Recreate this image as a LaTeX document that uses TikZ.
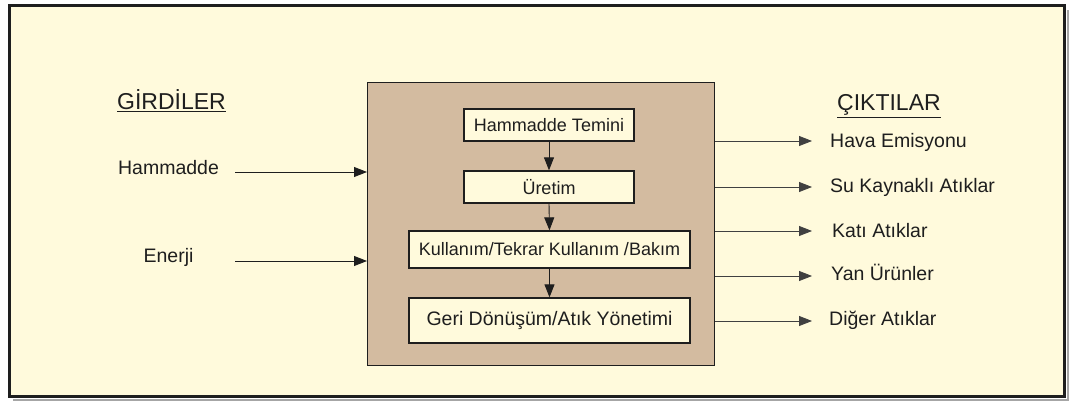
\documentclass[tikz,border=0pt]{standalone}
\usepackage{fontspec}
\setmainfont{Liberation Sans}
\usetikzlibrary{arrows.meta}
\definecolor{paper}{HTML}{FFFADC}
\definecolor{tanbox}{HTML}{D3BBA0}
\definecolor{ink}{HTML}{1E1E1E}
\begin{document}
\begin{tikzpicture}[x=1pt,y=-1pt,
  stage/.style={draw=ink, line width=1.3pt, fill=paper, inner sep=0pt,
    text=ink, font=\fontsize{18}{20}\selectfont},
  side/.style={text=ink, inner sep=0pt, font=\fontsize{19.5}{22}\selectfont},
  heading/.style={text=ink, inner sep=0pt, font=\fontsize{23}{26}\selectfont},
  flow/.style={draw=ink, line width=0.9pt, -{Triangle[length=13pt,width=10pt]}},
  outflow/.style={draw=ink!85, line width=0.8pt, -{Triangle[length=13pt,width=10pt]}}
]
\useasboundingbox (0,0) rectangle (1071,403);
\fill[white] (0,0) rectangle (1071,403);
% frame with a soft shadow
\draw[black!35, line width=2pt] (13,399.5) -- (1067.5,399.5) -- (1067.5,10);
\draw[ink, line width=3pt, fill=paper] (9,6) rectangle (1064,396);

% central process box
\node[draw=ink, line width=1.3pt, fill=tanbox, minimum width=347pt, minimum height=283pt,
  inner sep=0pt, anchor=north west] (core) at (367,82) {};

% process stages
\node[stage, minimum width=170pt, minimum height=32pt] (s1) at (549,125) {Hammadde Temini};
\node[stage, minimum width=170pt, minimum height=32pt] (s2) at (549,187) {Üretim};
\node[stage, minimum width=281pt, minimum height=37pt] (s3) at (549.5,249.5) {Kullanım/Tekrar Kullanım /Bakım};
\node[stage, minimum width=281pt, minimum height=45pt, font=\fontsize{19.5}{22}\selectfont] (s4) at (549.5,320.5) {Geri Dönüşüm/Atık Yönetimi};
\draw[flow] (s1.south) -- (s2.north);
\draw[flow] (s2.south) -- (s3.north);
\draw[flow] (s3.south) -- (s4.north);

% inputs
\node[heading, anchor=base west] (inHead) at (117,110) {\underline{GİRDİLER}};
\node[side, anchor=base] (ham) at (168.5,175) {Hammadde};
\node[side, anchor=base] (ene) at (168.5,263) {Enerji};
\coordinate (hamStart) at (235,172);
\coordinate (eneStart) at (235,261);
\draw[flow] (hamStart) -- (core.west |- hamStart);
\draw[flow] (eneStart) -- (core.west |- eneStart);

% outputs
\node[heading, anchor=base west] (outHead) at (837,111) {\underline{ÇIKTILAR}};
\node[side, anchor=base west] (o1) at (830,148) {Hava Emisyonu};
\node[side, anchor=base west] (o2) at (830,193) {Su Kaynaklı Atıklar};
\node[side, anchor=base west] (o3) at (832,238) {Katı Atıklar};
\node[side, anchor=base west] (o4) at (831,281) {Yan Ürünler};
\node[side, anchor=base west] (o5) at (829,326) {Diğer Atıklar};
\coordinate (t1) at (812,141);
\coordinate (t2) at (812,187);
\coordinate (t3) at (812,231);
\coordinate (t4) at (812,276);
\coordinate (t5) at (812,321);
\foreach \t in {t1,t2,t3,t4,t5}
  \draw[outflow] (core.east |- \t) -- (\t);
\end{tikzpicture}
\end{document}
